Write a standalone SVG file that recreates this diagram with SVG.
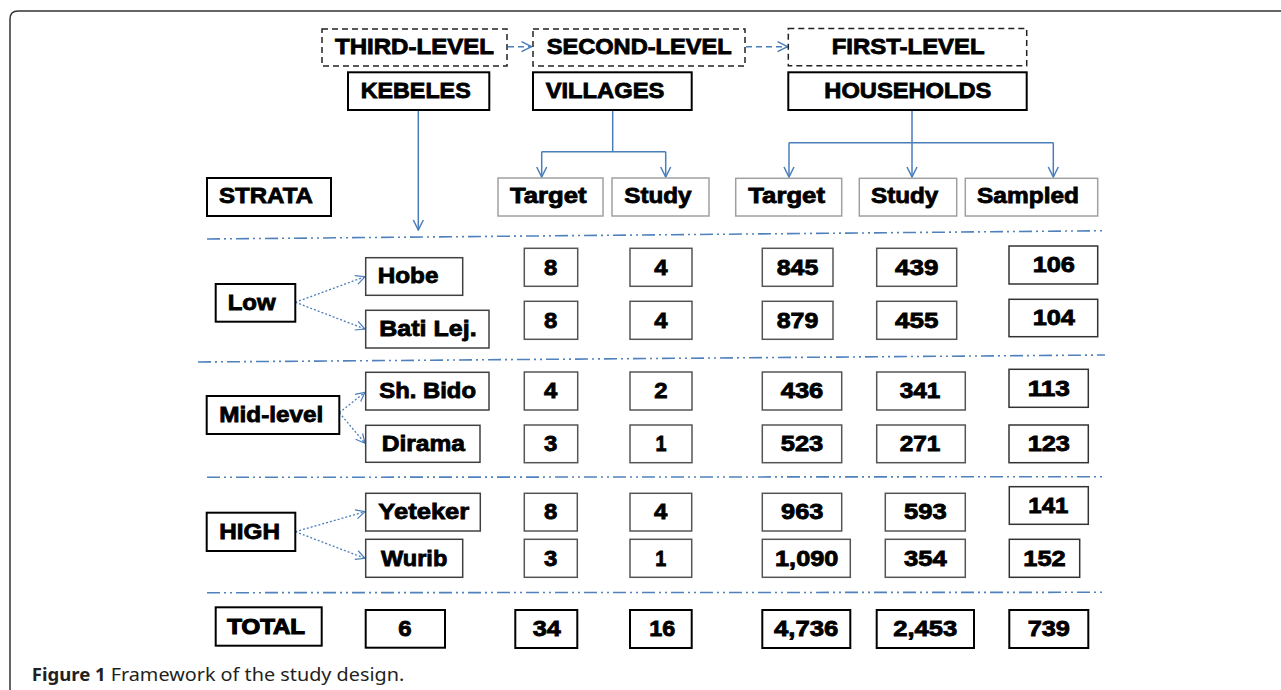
<svg xmlns="http://www.w3.org/2000/svg" width="1281" height="690" viewBox="0 0 1281 690">
<defs>
<marker id="arr" viewBox="0 0 12 12" refX="11" refY="6" markerWidth="12" markerHeight="12" markerUnits="userSpaceOnUse" orient="auto">
<path d="M1,1 L11,6 L1,11" fill="none" stroke="#4A7EBB" stroke-width="1.5"/>
</marker>
<marker id="arrs" viewBox="0 0 12 12" refX="11" refY="6" markerWidth="11" markerHeight="11" markerUnits="userSpaceOnUse" orient="auto">
<path d="M1,1 L11,6 L1,11" fill="none" stroke="#4A7EBB" stroke-width="1.3"/>
</marker>
</defs>
<style>
text{font-family:"Liberation Sans",Arial,sans-serif;font-weight:bold;font-size:21.5px;fill:#000;stroke:#000;stroke-width:0.8}
.num{text-anchor:middle}
.lvl{fill:#fff;stroke:#222;stroke-width:1.5;stroke-dasharray:6 4}
.hdr{fill:#fff;stroke:#000;stroke-width:2}
.col{fill:#fff;stroke:#a0a0a0;stroke-width:1.5}
.str{fill:#fff;stroke:#000;stroke-width:2}
.keb{fill:#fff;stroke:#404040;stroke-width:1.5}
.nb{fill:#fff;stroke:#555;stroke-width:1.5}
.ns{fill:#fff;stroke:#333;stroke-width:1.5}
.tot{fill:#fff;stroke:#000;stroke-width:2}
.sep{fill:none;stroke:#4F81BD;stroke-width:1.6;stroke-dasharray:13 4 2 4 2 4}
.con{fill:none;stroke:#4A7EBB;stroke-width:1.5}
.dash{fill:none;stroke:#4A7EBB;stroke-width:1.5;stroke-dasharray:6 4}
.dot{fill:none;stroke:#4A7EBB;stroke-width:1.3;stroke-dasharray:2 2}
.cap{font-family:"Noto Sans","Open Sans",sans-serif;font-size:18px;fill:#231f20;stroke:none}
</style>
<rect width="1281" height="690" fill="#fff"/>
<path d="M10,690 V19 Q10,11 18,11 H1281" fill="none" stroke="#333" stroke-width="1.5"/>

<g id="separators">
<path class="sep" d="M207,239 L1105,230.7"/>
<path class="sep" d="M198,362 L1105,355"/>
<path class="sep" d="M207,477.3 L1103,476.7"/>
<path class="sep" d="M207,592.7 L1105,592.3"/>
</g>

<g id="connectors">
<path class="dash" d="M508,46.7 H531.5" marker-end="url(#arr)"/>
<path class="dash" d="M746,46.7 H787.5" marker-end="url(#arr)"/>
<path class="con" d="M418.3,110 V230" marker-end="url(#arr)"/>
<path class="con" d="M612.7,110 V151.7 M541.7,151.7 H665.7"/>
<path class="con" d="M541.7,151.7 V177" marker-end="url(#arr)"/>
<path class="con" d="M665.7,151.7 V177" marker-end="url(#arr)"/>
<path class="con" d="M912,110 V142.7 M789,142.7 H1053.3"/>
<path class="con" d="M789,142.7 V177" marker-end="url(#arr)"/>
<path class="con" d="M912,142.7 V177" marker-end="url(#arr)"/>
<path class="con" d="M1053.3,142.7 V177" marker-end="url(#arr)"/>
<path class="dot" d="M295.3,302.3 L365,276.7" marker-end="url(#arrs)"/>
<path class="dot" d="M295.3,302.3 L365,329" marker-end="url(#arrs)"/>
<path class="dot" d="M339.3,412.7 L365,392.3" marker-end="url(#arrs)"/>
<path class="dot" d="M339.3,412.7 L365,443.3" marker-end="url(#arrs)"/>
<path class="dot" d="M295.3,531.7 L365,511.7" marker-end="url(#arrs)"/>
<path class="dot" d="M295.3,531.7 L365,558.3" marker-end="url(#arrs)"/>
</g>

<g id="third-level"><rect class="lvl" x="322" y="29" width="185" height="37"/><text x="335" y="54" textLength="159" lengthAdjust="spacingAndGlyphs">THIRD-LEVEL</text></g>
<g id="second-level"><rect class="lvl" x="533" y="29" width="212" height="37"/><text x="546.7" y="54" textLength="185" lengthAdjust="spacingAndGlyphs">SECOND-LEVEL</text></g>
<g id="first-level"><rect class="lvl" x="788.3" y="28.5" width="238.4" height="37.2"/><text x="831.7" y="54" textLength="153" lengthAdjust="spacingAndGlyphs">FIRST-LEVEL</text></g>
<g id="kebeles"><rect class="hdr" x="348" y="72.3" width="141.3" height="37.7"/><text x="360.7" y="97.7" textLength="110" lengthAdjust="spacingAndGlyphs">KEBELES</text></g>
<g id="villages"><rect class="hdr" x="533" y="72.3" width="158.7" height="37.7"/><text x="545.7" y="97.7" textLength="118.6" lengthAdjust="spacingAndGlyphs">VILLAGES</text></g>
<g id="households"><rect class="hdr" x="788.3" y="72.3" width="238.4" height="37.7"/><text x="824.3" y="98.3" textLength="167" lengthAdjust="spacingAndGlyphs">HOUSEHOLDS</text></g>

<g id="strata"><rect class="str" x="207" y="178" width="124" height="38"/><text x="219" y="203.3" textLength="94" lengthAdjust="spacingAndGlyphs">STRATA</text></g>
<g id="v-target"><rect class="col" x="498" y="178" width="105" height="38"/><text x="510" y="203.3" textLength="76.7" lengthAdjust="spacingAndGlyphs">Target</text></g>
<g id="v-study"><rect class="col" x="612" y="178" width="97" height="38"/><text x="624.3" y="203.3" textLength="67.3" lengthAdjust="spacingAndGlyphs">Study</text></g>
<g id="h-target"><rect class="col" x="735.7" y="178.3" width="106" height="37.7"/><text x="748.3" y="203.3" textLength="76.7" lengthAdjust="spacingAndGlyphs">Target</text></g>
<g id="h-study"><rect class="col" x="859.3" y="178.3" width="97.4" height="37.7"/><text x="871" y="203.3" textLength="67.3" lengthAdjust="spacingAndGlyphs">Study</text></g>
<g id="h-sampled"><rect class="col" x="965.3" y="178.3" width="132.4" height="37.7"/><text x="977" y="203.3" textLength="102" lengthAdjust="spacingAndGlyphs">Sampled</text></g>

<g id="low"><rect class="str" x="215.7" y="284" width="79.6" height="37.7"/><text x="227.7" y="310" textLength="48" lengthAdjust="spacingAndGlyphs">Low</text></g>
<g id="mid-level"><rect class="str" x="206.7" y="396" width="132.6" height="38"/><text x="219.3" y="421.7" textLength="104" lengthAdjust="spacingAndGlyphs">Mid-level</text></g>
<g id="high"><rect class="str" x="206.7" y="512.7" width="88.6" height="38.3"/><text x="219.3" y="539" textLength="60.7" lengthAdjust="spacingAndGlyphs">HIGH</text></g>
<g id="total"><rect class="tot" x="215.7" y="607.3" width="106" height="38.4"/><text x="227.3" y="634" textLength="77.7" lengthAdjust="spacingAndGlyphs" style="stroke-width:1.2">TOTAL</text></g>

<g id="hobe"><rect class="keb" x="365.7" y="257.7" width="97" height="37.6"/><text x="377.7" y="283.3" textLength="60.7" lengthAdjust="spacingAndGlyphs">Hobe</text></g>
<g id="bati-lej"><rect class="keb" x="365.7" y="310.3" width="123.3" height="37.7"/><text x="379.3" y="336" textLength="97.3" lengthAdjust="spacingAndGlyphs">Bati Lej.</text></g>
<g id="sh-bido"><rect class="keb" x="365.7" y="372.3" width="123.3" height="37.7"/><text x="379.3" y="397.7" textLength="96.7" lengthAdjust="spacingAndGlyphs">Sh. Bido</text></g>
<g id="dirama"><rect class="keb" x="365.7" y="425.3" width="114.3" height="37"/><text x="381.7" y="451" textLength="83.3" lengthAdjust="spacingAndGlyphs">Dirama</text></g>
<g id="yeteker"><rect class="keb" x="365.7" y="493.3" width="114.6" height="37.7"/><text x="378.3" y="519.3" textLength="91" lengthAdjust="spacingAndGlyphs">Yeteker</text></g>
<g id="wurib"><rect class="keb" x="365.7" y="539.3" width="97" height="38"/><text x="381" y="565.7" textLength="66.3" lengthAdjust="spacingAndGlyphs">Wurib</text></g>
<g id="total-kebeles"><rect class="tot" x="365.7" y="610" width="79.3" height="37.7"/><text class="num" x="405" y="635.7" textLength="13.3" lengthAdjust="spacingAndGlyphs">6</text></g>

<g id="vt-1"><rect class="nb" x="524.3" y="248.3" width="53.4" height="38"/><text class="num" x="550.7" y="274.7" textLength="13.3" lengthAdjust="spacingAndGlyphs">8</text></g>
<g id="vt-2"><rect class="nb" x="524.3" y="301.3" width="53.4" height="38"/><text class="num" x="550.7" y="327.7" textLength="13.3" lengthAdjust="spacingAndGlyphs">8</text></g>
<g id="vt-3"><rect class="nb" x="524.3" y="372" width="53.4" height="38"/><text class="num" x="550.7" y="398" textLength="13.3" lengthAdjust="spacingAndGlyphs">4</text></g>
<g id="vt-4"><rect class="nb" x="524.3" y="425" width="53.4" height="37.7"/><text class="num" x="550.7" y="450.7" textLength="13.3" lengthAdjust="spacingAndGlyphs">3</text></g>
<g id="vt-5"><rect class="nb" x="524.3" y="493.3" width="53" height="37.7"/><text class="num" x="550.7" y="519.3" textLength="13.3" lengthAdjust="spacingAndGlyphs">8</text></g>
<g id="vt-6"><rect class="nb" x="524.3" y="539.3" width="53" height="38"/><text class="num" x="550.7" y="565.7" textLength="13.3" lengthAdjust="spacingAndGlyphs">3</text></g>
<g id="vt-total"><rect class="tot" x="515.3" y="610" width="62" height="38"/><text class="num" x="546.7" y="635.7" textLength="28" lengthAdjust="spacingAndGlyphs">34</text></g>

<g id="vs-1"><rect class="nb" x="630" y="248.3" width="62" height="38"/><text class="num" x="661" y="274.7" textLength="13.3" lengthAdjust="spacingAndGlyphs">4</text></g>
<g id="vs-2"><rect class="nb" x="630" y="301.3" width="62" height="38"/><text class="num" x="661" y="327.7" textLength="13.3" lengthAdjust="spacingAndGlyphs">4</text></g>
<g id="vs-3"><rect class="nb" x="630" y="372" width="62" height="38"/><text class="num" x="661" y="398" textLength="13.3" lengthAdjust="spacingAndGlyphs">2</text></g>
<g id="vs-4"><rect class="nb" x="630" y="425" width="62" height="37.7"/><text class="num" x="661" y="450.7" textLength="11" lengthAdjust="spacingAndGlyphs">1</text></g>
<g id="vs-5"><rect class="nb" x="630" y="493.3" width="61.7" height="37.7"/><text class="num" x="660.7" y="519.3" textLength="13.3" lengthAdjust="spacingAndGlyphs">4</text></g>
<g id="vs-6"><rect class="nb" x="630" y="539.3" width="61.7" height="38"/><text class="num" x="660.7" y="565.7" textLength="11" lengthAdjust="spacingAndGlyphs">1</text></g>
<g id="vs-total"><rect class="tot" x="630" y="610" width="61.7" height="38"/><text class="num" x="662.2" y="635.7" textLength="26" lengthAdjust="spacingAndGlyphs">16</text></g>

<g id="ht-1"><rect class="nb" x="762.3" y="248.3" width="70.7" height="38"/><text class="num" x="797.5" y="274.7" textLength="41.6" lengthAdjust="spacingAndGlyphs">845</text></g>
<g id="ht-2"><rect class="nb" x="762.3" y="301.3" width="70.7" height="38"/><text class="num" x="797.5" y="327.7" textLength="41.6" lengthAdjust="spacingAndGlyphs">879</text></g>
<g id="ht-3"><rect class="nb" x="762.3" y="372" width="79.4" height="38"/><text class="num" x="802" y="398" textLength="42.6" lengthAdjust="spacingAndGlyphs">436</text></g>
<g id="ht-4"><rect class="nb" x="762.3" y="425" width="79.4" height="37.7"/><text class="num" x="802" y="450.7" textLength="42.6" lengthAdjust="spacingAndGlyphs">523</text></g>
<g id="ht-5"><rect class="nb" x="762.3" y="493.3" width="79.4" height="37.7"/><text class="num" x="802.2" y="519.3" textLength="42.3" lengthAdjust="spacingAndGlyphs">963</text></g>
<g id="ht-6"><rect class="nb" x="762.3" y="539.3" width="88" height="38"/><text class="num" x="806.7" y="565.7" textLength="63.3" lengthAdjust="spacingAndGlyphs">1,090</text></g>
<g id="ht-total"><rect class="tot" x="762.3" y="610" width="88" height="38"/><text class="num" x="806.2" y="635.7" textLength="64.3" lengthAdjust="spacingAndGlyphs">4,736</text></g>

<g id="hs-1"><rect class="nb" x="876.7" y="248.3" width="80" height="38"/><text class="num" x="916.7" y="274.7" textLength="43.3" lengthAdjust="spacingAndGlyphs">439</text></g>
<g id="hs-2"><rect class="nb" x="876.7" y="301.3" width="80" height="38"/><text class="num" x="916.7" y="327.7" textLength="43.3" lengthAdjust="spacingAndGlyphs">455</text></g>
<g id="hs-3"><rect class="nb" x="876.7" y="372" width="88.6" height="38"/><text class="num" x="920" y="398" textLength="40.7" lengthAdjust="spacingAndGlyphs">341</text></g>
<g id="hs-4"><rect class="nb" x="876.7" y="425" width="88.6" height="37.7"/><text class="num" x="920" y="450.7" textLength="40.7" lengthAdjust="spacingAndGlyphs">271</text></g>
<g id="hs-5"><rect class="nb" x="885.3" y="493.3" width="80" height="37.7"/><text class="num" x="925.3" y="519.3" textLength="42.7" lengthAdjust="spacingAndGlyphs">593</text></g>
<g id="hs-6"><rect class="nb" x="885.3" y="539.3" width="80" height="38"/><text class="num" x="925.3" y="565.7" textLength="42.7" lengthAdjust="spacingAndGlyphs">354</text></g>
<g id="hs-total"><rect class="tot" x="876.7" y="610" width="97.3" height="38"/><text class="num" x="925.3" y="635.7" textLength="64" lengthAdjust="spacingAndGlyphs">2,453</text></g>

<g id="sa-1"><rect class="ns" x="1009" y="246" width="88.7" height="38"/><text class="num" x="1053.8" y="272" textLength="42.3" lengthAdjust="spacingAndGlyphs">106</text></g>
<g id="sa-2"><rect class="ns" x="1009" y="299.3" width="88.7" height="37.4"/><text class="num" x="1053.8" y="325" textLength="42.3" lengthAdjust="spacingAndGlyphs">104</text></g>
<g id="sa-3"><rect class="ns" x="1009" y="369.3" width="79.3" height="38"/><text class="num" x="1048.8" y="395.7" textLength="42.3" lengthAdjust="spacingAndGlyphs">113</text></g>
<g id="sa-4"><rect class="ns" x="1009" y="425" width="79.3" height="37.7"/><text class="num" x="1048.8" y="450.7" textLength="42.3" lengthAdjust="spacingAndGlyphs">123</text></g>
<g id="sa-5"><rect class="ns" x="1009.3" y="486.7" width="79" height="37.6"/><text class="num" x="1048.3" y="512.7" textLength="40" lengthAdjust="spacingAndGlyphs">141</text></g>
<g id="sa-6"><rect class="ns" x="1009.3" y="539.3" width="70.4" height="38"/><text class="num" x="1044.5" y="565.7" textLength="42.4" lengthAdjust="spacingAndGlyphs">152</text></g>
<g id="sa-total"><rect class="tot" x="1009.3" y="610" width="79" height="38"/><text class="num" x="1048.8" y="635.7" textLength="42.3" lengthAdjust="spacingAndGlyphs">739</text></g>

<g id="caption">
<text class="cap" x="31.7" y="681" textLength="74" lengthAdjust="spacingAndGlyphs">Figure 1</text>
<text class="cap" x="110.7" y="681" textLength="293.6" lengthAdjust="spacingAndGlyphs" style="font-weight:normal">Framework of the study design.</text>
</g>
</svg>
